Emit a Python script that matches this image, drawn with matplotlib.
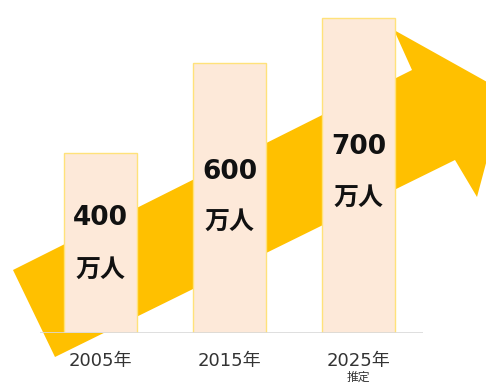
import matplotlib
matplotlib.use("Agg")
import matplotlib.pyplot as plt
from matplotlib.patches import Polygon

plt.rcParams['font.family'] = ['DejaVu Sans', 'Noto Sans CJK JP']

categories = ["2005年", "2015年", "2025年"]
sub_labels = ["", "", "推定"]
values = [400, 600, 700]
value_labels = ["400", "600", "700"]
unit_label = "万人"

W, H = 486, 385
fig = plt.figure(figsize=(W / 100, H / 100), dpi=100)

def px(x0, y0, x1, y1):
    return [x0 / W, 1 - y1 / H, (x1 - x0) / W, (y1 - y0) / H]

ax = fig.add_axes(px(40, 0, 423, 333))
ax.set_facecolor("none")
ax.set_xlim(-0.469, 2.5)
ax.set_ylim(0, 333 / 0.45)
for s in ax.spines.values():
    s.set_visible(False)
ax.set_yticks([])
ax.set_xticks([])

# background arrow (figure pixel coords, y downward)
arrow_px = [(13, 270), (412, 70), (394, 30), (505, 92), (477, 197), (455, 160), (55, 357)]
arrow = Polygon([(x / W, 1 - y / H) for x, y in arrow_px], closed=True,
                transform=fig.transFigure, facecolor="#FFC000", edgecolor="none",
                zorder=0.5, clip_on=False)
ax.add_patch(arrow)

xs = list(range(len(categories)))
ax.bar(xs, values, width=0.566, color="#FDE9D9", edgecolor="#FFE27A",
       linewidth=1.0, zorder=2)
ax.axhline(0, color="#D9D9D9", linewidth=1.2, zorder=3)

num_y = [256, 357, 413]
unit_y = [140, 247, 300]
for i, x in enumerate(xs):
    ax.text(x, num_y[i], value_labels[i], ha="center", va="center",
            fontsize=19, fontweight="bold", color="#111111", zorder=4)
    ax.text(x, unit_y[i], unit_label, ha="center", va="center",
            fontsize=18, fontweight="bold", color="#111111", zorder=4)
    ax.text(x, -62, categories[i], ha="center", va="center",
            fontsize=13, color="#333333", zorder=4, clip_on=False)
    if sub_labels[i]:
        ax.text(x, -99, sub_labels[i], ha="center", va="center",
                fontsize=8.5, color="#333333", zorder=4, clip_on=False)

fig.savefig("out.png", dpi=100)
